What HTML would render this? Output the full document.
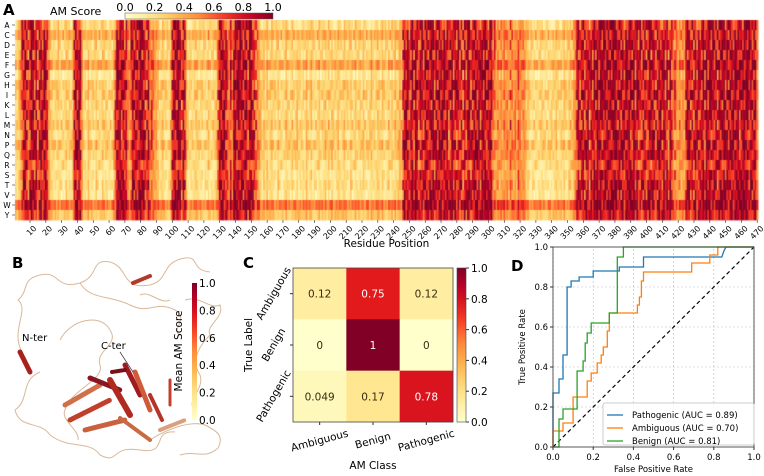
<!DOCTYPE html>
<html><head><meta charset="utf-8"><style>
html,body{margin:0;padding:0;background:#fff;}
#root{position:relative;width:764px;height:476px;overflow:hidden;font-family:"Liberation Sans","DejaVu Sans",sans-serif;}
svg text{font-family:"DejaVu Sans","Liberation Sans",sans-serif;}
</style></head><body>
<div id="root">
<canvas id="hm" width="764" height="476" style="position:absolute;left:0;top:0"></canvas>
<svg id="sv" width="764" height="476" style="position:absolute;left:0;top:0"></svg>
</div>
<script>
// ---------- Panel A data ----------
const residueScores = ("2234789868"+"9879689798"+"7432222322"+"2232223898"+"9842223222"+"2322232222"+"2236989796"+"8547989899"+"8977956544"+"3223222238"+
"9989969842"+"2222322222"+"2232222369"+"9988657589"+"8999899798"+"8765432323"+"2232223222"+"2322232232"+"2222322322"+"2232223232"+
"3222322232"+"2232232222"+"3222232223"+"2232223232"+"3234379896"+"8979868979"+"9898979899"+"8979689787"+"9786979878"+"9989798987"+
"9856454545"+"4546545465"+"4543322222"+"2222222222"+"2232222322"+"3334578789"+"7896879898"+"9899999999"+"9898979898"+"8979787897"+
"8979878987"+"9786875654"+"5454789787"+"9787897989"+"8989799898"+"9899898979"+"8999898995").split('').map(Number);
const aminoAcids = ["A","C","D","E","F","G","H","I","K","L","M","N","P","Q","R","S","T","V","W","Y"];
const aaOffset = [0,0.18,0.02,0.02,0.18,-0.05,0.05,0.06,0.03,0.0,0.1,0.02,0.1,0.03,0.03,-0.02,-0.02,-0.06,0.28,0.1];
const residueTicks = [10,20,30,40,50,60,70,80,90,100,110,120,130,140,150,160,170,180,190,200,210,220,230,240,250,260,270,280,290,300,310,320,330,340,350,360,370,380,390,400,410,420,430,440,450,460,470];
// ---------- Panel C data ----------
const cmClasses = ["Ambiguous","Benign","Pathogenic"];
const cmValues = [[0.12,0.75,0.12],[0,1,0],[0.049,0.17,0.78]];
const cmLabels = [["0.12","0.75","0.12"],["0","1","0"],["0.049","0.17","0.78"]];
// ---------- Panel D data ----------
const rocNames = ["Pathogenic (AUC = 0.89)","Ambiguous (AUC = 0.70)","Benign (AUC = 0.81)"];
const rocColors = ["#1f77b4","#ff7f0e","#2ca02c"];
const fprPath = [0,0,0.03,0.03,0.05,0.05,0.07,0.07,0.09,0.09,0.13,0.13,0.2,0.2,0.33,0.33,0.45,0.45,0.84,0.85,0.86,1];
const tprPath = [0,0.27,0.27,0.34,0.34,0.46,0.46,0.80,0.80,0.83,0.83,0.85,0.85,0.88,0.88,0.90,0.90,0.95,0.95,0.98,1,1];
const fprAmb = [0,0,0.05,0.05,0.1,0.1,0.17,0.17,0.19,0.19,0.22,0.22,0.24,0.24,0.25,0.25,0.27,0.27,0.28,0.28,0.42,0.42,0.43,0.43,0.44,0.44,0.45,0.45,0.69,0.69,0.78,0.78,0.82,0.82,1];
const tprAmb = [0,0.08,0.08,0.12,0.12,0.25,0.25,0.33,0.33,0.37,0.37,0.42,0.42,0.46,0.46,0.5,0.5,0.58,0.58,0.67,0.67,0.71,0.71,0.75,0.75,0.83,0.83,0.875,0.875,0.92,0.92,0.96,0.96,1,1];
const fprBen = [0,0.03,0.03,0.05,0.05,0.12,0.12,0.15,0.15,0.16,0.16,0.17,0.17,0.19,0.19,0.28,0.28,0.32,0.32,0.35,0.35,1];
const tprBen = [0,0,0.14,0.14,0.19,0.19,0.38,0.38,0.43,0.43,0.52,0.52,0.57,0.57,0.62,0.62,0.67,0.67,0.95,0.95,1,1];
const rocTicks = [0,0.2,0.4,0.6,0.8,1.0];

const stops=[[0,[255,255,204]],[0.125,[255,237,160]],[0.25,[254,217,118]],[0.375,[254,178,76]],[0.5,[253,141,60]],[0.625,[252,78,42]],[0.75,[227,26,28]],[0.875,[189,0,38]],[1,[128,0,38]]];
function cmap(v){v=Math.max(0,Math.min(1,v));for(let i=1;i<stops.length;i++){if(v<=stops[i][0]){const a=stops[i-1],b=stops[i],t=(v-a[0])/(b[0]-a[0]);return 'rgb('+a[1].map((c,k)=>Math.round(c+(b[1][k]-c)*t)).join(',')+')';}}return 'rgb(128,0,38)';}

const NS='http://www.w3.org/2000/svg', sv=document.getElementById('sv');
function el(tag,attrs,parent,text){const e=document.createElementNS(NS,tag);for(const k in attrs)e.setAttribute(k,attrs[k]);if(text!==undefined)e.textContent=text;(parent||sv).appendChild(e);return e;}

// ---------- Panel A ----------
const hx0=15,hx1=758,hy0=20,hy1=220;
const xRes=r=>hx0+(r-0.5)*(hx1-hx0)/residueScores.length;
const rowH=(hy1-hy0)/aminoAcids.length;
const ctx=document.getElementById('hm').getContext('2d');
const cw=(hx1-hx0)/residueScores.length;
for(let r=0;r<aminoAcids.length;r++){
  for(let p=0;p<residueScores.length;p++){
    const b=residueScores[p]/10;
    const h=((p*p*13+r*r*7+p*r*31+p*5)%23)/23-0.5;
    const j=h*(b>0.5?0.6:0.25);
    const v=b+aaOffset[r]*(1-b)*1.4+j;
    ctx.fillStyle=cmap(v);
    ctx.fillRect(xRes(p+0.5)-0.02,hy0+r*rowH,cw+0.5,rowH+0.3);
  }
}
const gA=el('g',{});
el('text',{x:3,y:15,'font-size':15,'font-weight':'bold'},gA,'A');
el('text',{x:50,y:15,'font-size':11},gA,'AM Score');
const dfs=el('defs',{});
const lg=el('linearGradient',{id:'gh',x1:0,x2:1,y1:0,y2:0},dfs);
const lgv=el('linearGradient',{id:'gv',x1:0,x2:0,y1:1,y2:0},dfs);
for(let i=0;i<=10;i++){el('stop',{offset:i/10,'stop-color':cmap(i/10)},lg);el('stop',{offset:i/10,'stop-color':cmap(i/10)},lgv);}
const cbA=el('rect',{x:125,y:13,width:148,height:6,fill:'url(#gh)',stroke:'#555','stroke-width':0.5},gA);

for(let i=0;i<=5;i++)el('text',{x:125+i*148/5,y:11,'font-size':11,'text-anchor':'middle'},gA,(i*0.2).toFixed(1));
aminoAcids.forEach((a,r)=>{const y=hy0+(r+0.5)*rowH;
  const t=el('text',{x:7,y:y+3,'font-size':7.5,'text-anchor':'middle'},gA,a);
  el('line',{x1:12,x2:15,y1:y,y2:y,stroke:'#333','stroke-width':0.6},gA);});
residueTicks.forEach(v=>{const x=xRes(v);
  el('line',{x1:x,x2:x,y1:hy1,y2:hy1+3,stroke:'#333','stroke-width':0.6},gA);
  const t=el('text',{x:x+3,y:hy1+5,'font-size':8,'text-anchor':'end',transform:`rotate(-45 ${x+3} ${hy1+5})`,'dominant-baseline':'hanging'},gA,String(v));
  });
el('text',{x:(hx0+hx1)/2,y:247,'font-size':10.5,'text-anchor':'middle'},gA,'Residue Position');

// ---------- Panel B ----------
const gB=el('g',{});
el('text',{x:12,y:268,'font-size':15,'font-weight':'bold'},gB,'B');
const loops=["M22,352 C10,330 30,310 18,300 C30,290 20,280 40,275 C60,270 55,290 80,283 C100,276 90,258 110,262 C130,268 120,290 150,285 C170,280 160,262 185,258 C200,256 190,270 210,272",
"M80,283 C90,300 110,295 130,305 C150,315 155,300 175,310 C190,318 170,330 180,335",
"M40,372 C20,380 30,400 15,410 C20,430 40,420 50,435 C70,450 90,440 100,455 C120,465 110,445 140,450 C170,455 150,430 175,432",
"M60,340 C70,320 100,312 110,330 C120,345 95,350 100,365 C105,380 70,390 65,410 C60,420 80,430 78,440",
"M140,295 C150,290 160,305 170,300 M185,300 C200,295 210,310 220,305 C225,318 205,325 210,335",
"M150,440 C165,430 190,420 205,425 C215,430 225,435 218,448 C205,460 195,450 180,455",
"M210,335 C200,345 190,360 200,375 C205,390 185,400 195,410"];
loops.forEach(d=>el('path',{d:d,fill:'none',stroke:'#d9b898','stroke-width':1},gB));
const helices=[["M133,283 L150,276",'#b33a2a',4],["M20,352 L30,372",'#a8221c',5],["M65,405 L100,385",'#d0704a',5],["M70,420 L110,400",'#c0402c',5],["M90,378 L120,390",'#8a1520',5],["M110,380 L130,415",'#b02a22',6],["M85,430 L125,420",'#c9603e',5],["M125,365 L140,395",'#a01a1e',5],["M135,372 L150,410",'#d05a3a',5],["M120,418 L150,440",'#c86a44',4],["M150,395 L162,420",'#b5342a',4],["M160,430 L185,420",'#d9a080',4],["M112,372 L125,370",'#7a1018',4],["M170,380 L170,405",'#c0402c',3]];
helices.forEach(h=>el('path',{d:h[0],fill:'none',stroke:h[1],'stroke-width':h[2],'stroke-linecap':'round','stroke-dasharray':'2 1'},gB));
el('text',{x:22,y:341,'font-size':10},gB,'N-ter');
el('text',{x:101,y:349,'font-size':10},gB,'C-ter');
el('line',{x1:120,y1:352,x2:133,y2:372,stroke:'#333','stroke-width':0.7},gB);
const cbB=el('rect',{x:192,y:283,width:5,height:137,fill:'url(#gv)'},gB);
for(let i=0;i<=5;i++){const y=420-i*137/5;el('text',{x:199,y:y+4,'font-size':10.5},gB,(i*0.2).toFixed(1));}
el('text',{x:0,y:0,'font-size':10.5,'text-anchor':'middle',transform:'translate(182,351) rotate(-90)'},gB,'Mean AM Score');

// ---------- Panel C ----------
const gC=el('g',{});
el('text',{x:243,y:268,'font-size':15,'font-weight':'bold'},gC,'C');
const cx0=293,cy0=268,cs=(453-293)/3,chh=(422-268)/3;
cmValues.forEach((row,i)=>row.forEach((v,j)=>{
  const r=el('rect',{x:cx0+j*cs,y:cy0+i*chh,width:cs+0.3,height:chh+0.3,fill:cmap(v)},gC);
  
  el('text',{x:cx0+(j+0.5)*cs,y:cy0+(i+0.5)*chh+4,'font-size':10.5,'text-anchor':'middle',fill:v>0.5?'#fff':'#3a2a10'},gC,cmLabels[i][j]);
}));
el('rect',{x:cx0,y:cy0,width:3*cs,height:3*chh,fill:'none',stroke:'#444','stroke-width':0.8},gC);
const cbC=el('rect',{x:457,y:268,width:9,height:154,fill:'url(#gv)',stroke:'#444','stroke-width':0.6},gC);
for(let i=0;i<=5;i++){const y=422-i*154/5;el('line',{x1:466,x2:469,y1:y,y2:y,stroke:'#333'},gC);el('text',{x:471,y:y+4,'font-size':10.5},gC,(i*0.2).toFixed(1));}
cmClasses.forEach((c,k)=>{
  const y=cy0+(k+0.5)*chh, x=cx0+(k+0.5)*cs;
  el('line',{x1:cx0-3,x2:cx0,y1:y,y2:y,stroke:'#333'},gC);
  el('line',{x1:x,x2:x,y1:422,y2:425,stroke:'#333'},gC);
  el('text',{x:0,y:0,'font-size':10.5,'text-anchor':'middle','dominant-baseline':'middle',transform:`translate(${cx0-19},${y}) rotate(-60)`},gC,c);
  el('text',{x:0,y:0,'font-size':10.5,'text-anchor':'middle','dominant-baseline':'middle',transform:`translate(${x},${441}) rotate(-15)`},gC,c);
});
el('text',{x:0,y:0,'font-size':10.5,'text-anchor':'middle',transform:'translate(252,345) rotate(-90)'},gC,'True Label');
el('text',{x:373,y:469,'font-size':10.5,'text-anchor':'middle'},gC,'AM Class');

// ---------- Panel D ----------
const gD=el('g',{});
const dx0=553,dx1=754,dy0=447,dy1=247;
const X=v=>dx0+v*(dx1-dx0), Y=v=>dy0-v*(dy0-dy1);
rocTicks.forEach(t=>{
  el('line',{x1:X(t),x2:X(t),y1:dy0,y2:dy1,stroke:'#bbb','stroke-width':0.6,'stroke-dasharray':'2 2'},gD);
  el('line',{x1:dx0,x2:dx1,y1:Y(t),y2:Y(t),stroke:'#bbb','stroke-width':0.6,'stroke-dasharray':'2 2'},gD);
  el('line',{x1:X(t),x2:X(t),y1:dy0,y2:dy0+3,stroke:'#333'},gD);
  el('line',{x1:dx0-3,x2:dx0,y1:Y(t),y2:Y(t),stroke:'#333'},gD);
  el('text',{x:X(t),y:dy0+13,'font-size':8.5,'text-anchor':'middle'},gD,t.toFixed(1));
  el('text',{x:dx0-5,y:Y(t)+3,'font-size':8.5,'text-anchor':'end'},gD,t.toFixed(1));
});
el('line',{x1:X(0),y1:Y(0),x2:X(1),y2:Y(1),stroke:'#000','stroke-width':1.2,'stroke-dasharray':'4 3'},gD);
const series=[[fprPath,tprPath],[fprAmb,tprAmb],[fprBen,tprBen]];
series.forEach((s,k)=>{
  const d=s[0].map((f,i)=>(i?'L':'M')+X(f).toFixed(1)+','+Y(s[1][i]).toFixed(1)).join(' ');
  const p=el('path',{d:d,fill:'none',stroke:rocColors[k],'stroke-width':1.3},gD);
  
});
el('rect',{x:dx0,y:dy1,width:dx1-dx0,height:dy0-dy1,fill:'none',stroke:'#333','stroke-width':0.8},gD);
el('text',{x:511,y:271,'font-size':15,'font-weight':'bold'},gD,'D');
el('text',{x:0,y:0,'font-size':8.5,'text-anchor':'middle',transform:'translate(525,347) rotate(-90)'},gD,'True Positive Rate');
el('text',{x:(dx0+dx1)/2,y:472,'font-size':8.5,'text-anchor':'middle'},gD,'False Positive Rate');
const lgBox=el('rect',{x:603,y:403,width:151,height:42,fill:'#fff','fill-opacity':0.85,stroke:'#ccc',rx:2},gD);

rocNames.forEach((n,k)=>{const y=415+k*13;
  el('line',{x1:607,x2:623,y1:y,y2:y,stroke:rocColors[k],'stroke-width':1.3},gD);
  const t=el('text',{x:632,y:y+3,'font-size':8.5},gD,n);});
</script>
</body></html>
